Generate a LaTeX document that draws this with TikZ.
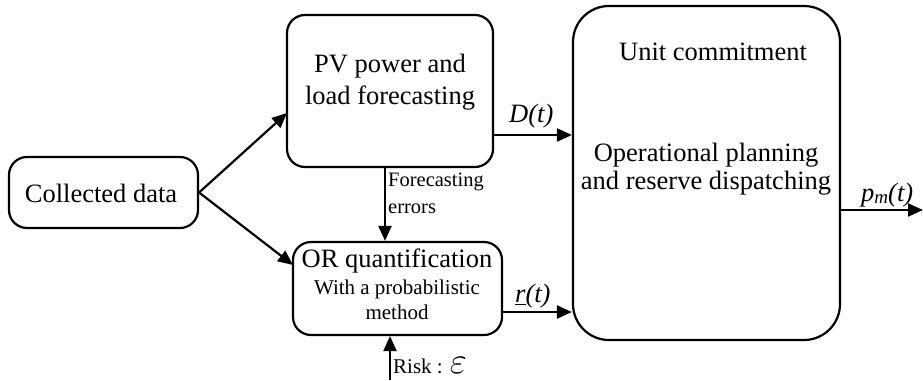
\documentclass[tikz,border=0pt]{standalone}
\usepackage{fontspec}
\setmainfont{Liberation Serif}
\usetikzlibrary{arrows.meta}
\begin{document}
\begin{tikzpicture}[x=1pt,y=-1pt,
  box/.style={draw,line width=2.2pt,rounded corners=18pt,inner sep=0pt},
  arr/.style={line width=2.2pt,-{Triangle[length=15pt,width=13pt]}},
  big/.style={font=\fontsize{26.5}{30}\selectfont},
  small/.style={font=\fontsize{21}{26}\selectfont},
  lab/.style={inner sep=0pt,align=center}]
\useasboundingbox (0,0) rectangle (923,380);
% boxes
\node[box,minimum width=189pt,minimum height=71pt] (cd) at (103.5,192.5) {};
\node[box,minimum width=206pt,minimum height=152pt] (pv) at (390,91) {};
\node[box,minimum width=209pt,minimum height=93pt] (or) at (397.5,288.5) {};
\node[box,rounded corners=36pt,minimum width=267pt,minimum height=334pt] (uc) at (706.5,173) {};
% texts
\node[lab,big] (cdt) at (101,193) {Collected data};
\node[lab,big,font=\fontsize{26.5}{32}\selectfont] (pvt) at (390,82) {PV power and\\load forecasting};
\node[lab,big] (ort) at (397,261) {OR quantification};
\node[lab,small,font=\fontsize{21}{24.5}\selectfont] (ors) at (397,300) {With a probabilistic\\method};
\node[lab,big] (uct) at (713,52) {Unit commitment};
\node[lab,big,font=\fontsize{26.5}{28}\selectfont] (uco) at (706,169) {Operational planning\\and reserve dispatching};
% connectors
\coordinate (pvin) at (287,113);
\coordinate (orin) at (293,265);
\draw[arr] (cd.east) -- (pvin);
\draw[arr] (cd.east) -- (orin);
\draw[arr] ([yshift=-44pt]pv.east) -- ([yshift=-44pt]pv.east -| uc.west);
\draw[arr] ([yshift=-23.5pt]or.east) -- ([yshift=-23.5pt]or.east -| uc.west);
\draw[arr] ([xshift=-5pt]pv.south) -- ([xshift=-5pt]pv.south |- or.north);
\coordinate (risk) at (390,380);
\draw[arr] (risk) -- (risk |- or.south);
\coordinate (out) at (923,210);
\draw[arr] (uc.east |- out) -- (out);
% labels
\node[lab,big,anchor=west] (dl) at (509,116) {\textit{D(t)}};
\node[lab,big,anchor=west] (rl) at (515,296) {\textit{\underline{r}(t)}};
\node[lab,big,anchor=west] (pl) at (861,195) {\textit{p\raisebox{-2pt}{\fontsize{19}{19}\selectfont m}(t)}};
\node[lab,small,anchor=north west,align=left,font=\fontsize{20.5}{27}\selectfont] (fe) at (388,173) {Forecasting\\errors};
\node[lab,small,anchor=base west] (rk) at (393,373) {Risk : \scalebox{1.8}{$\varepsilon$}};
\end{tikzpicture}
\end{document}
